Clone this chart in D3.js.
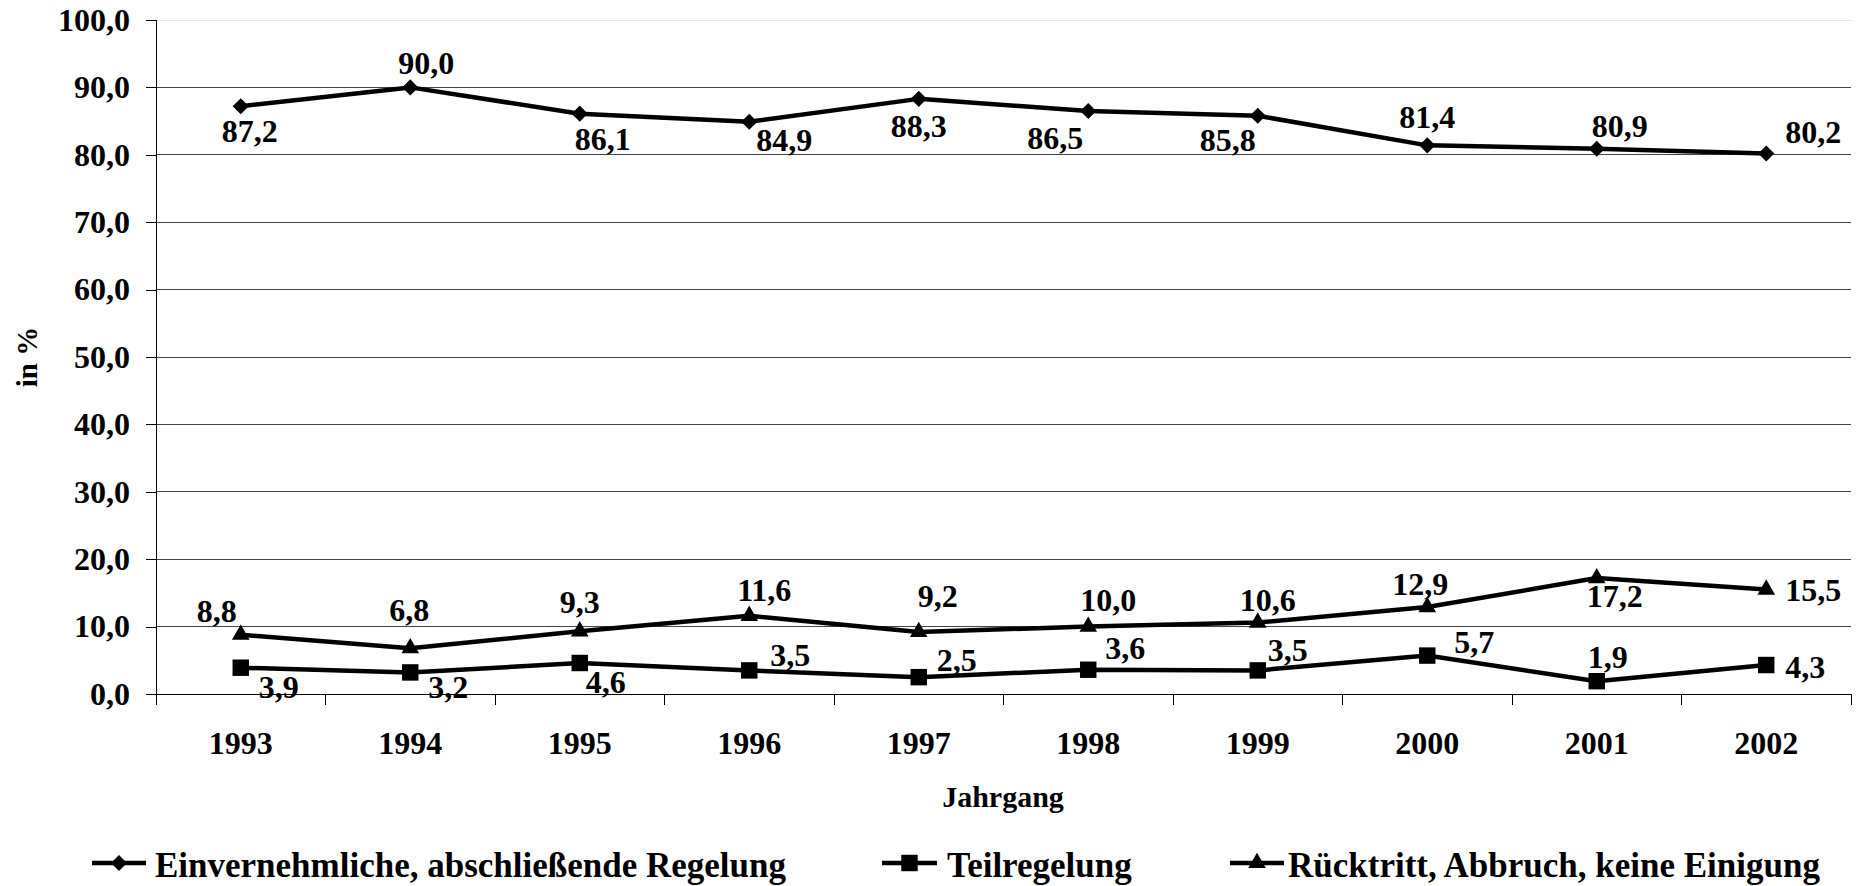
<!DOCTYPE html>
<html>
<head>
<meta charset="utf-8">
<script src="https://cdn.jsdelivr.net/npm/d3@7"></script>
<style>
  html, body { margin: 0; padding: 0; background: #fff; }
  svg { display: block; font-family: "Liberation Serif", "Times New Roman", serif; font-weight: bold; }
</style>
</head>
<body>
<svg id="chart" width="1859" height="886"></svg>
<script>
// ---- data ----
const years = ["1993", "1994", "1995", "1996", "1997", "1998", "1999", "2000", "2001", "2002"];
const einvernehmlich = [87.2, 90.0, 86.1, 84.9, 88.3, 86.5, 85.8, 81.4, 80.9, 80.2];
const teilregelung = [3.9, 3.2, 4.6, 3.5, 2.5, 3.6, 3.5, 5.7, 1.9, 4.3];
const ruecktritt = [8.8, 6.8, 9.3, 11.6, 9.2, 10.0, 10.6, 12.9, 17.2, 15.5];
const yTicks = [0, 10, 20, 30, 40, 50, 60, 70, 80, 90, 100];
const seriesNames = ["Einvernehmliche, abschließende Regelung", "Teilregelung", "Rücktritt, Abbruch, keine Einigung"];
const yTitle = "in %";
const xTitle = "Jahrgang";

// label placement (offset of label centre from marker, px)
const offA = [[9,25],[16,-24],[23,26],[35,18],[0,27],[-33,27],[-30,24],[0,-28],[23,-23],[47,-21]];
const offB = [[38,19],[38,15],[26,19],[41,-15],[38,-17],[37,-22],[30,-20],[47,-13],[11,-24],[39,2]];
const offC = [[-24,-23],[-1,-38],[0,-29],[15,-26],[19,-36],[20,-26],[10,-22],[-7,-23],[18,18],[47,1]];

// ---- layout ----
const svg = d3.select("#chart");
const pLeft = 156, pRight = 1851, pTop = 20, pBottom = 694;
const fmt = v => d3.format(".1f")(v).replace(".", ",");

const x = d3.scaleBand().domain(years).range([pLeft, pRight]).padding(0);
const y = d3.scaleLinear().domain([0, 100]).range([pBottom, pTop]);
const cx = d => x(d) + x.bandwidth() / 2;

// gridlines
svg.append("g").selectAll("line").data(yTicks.filter(t => t > 0)).join("line")
  .attr("x1", pLeft).attr("x2", pRight)
  .attr("y1", d => y(d)).attr("y2", d => y(d))
  .attr("stroke", d => d === 100 ? "#e6e6e6" : "#444")
  .attr("stroke-width", 1)
  .attr("shape-rendering", "crispEdges");

// y axis
const yAxis = svg.append("g").attr("transform", `translate(${pLeft},0)`)
  .call(d3.axisLeft(y).tickValues(yTicks).tickFormat(fmt).tickSize(10).tickSizeOuter(0).tickPadding(16));
yAxis.select(".domain").remove();
yAxis.append("line").attr("x1", 0).attr("x2", 0).attr("y1", pTop).attr("y2", pBottom + 11)
  .attr("stroke", "#000").attr("shape-rendering", "crispEdges");
yAxis.selectAll(".tick line").attr("stroke", "#000").attr("shape-rendering", "crispEdges");
yAxis.selectAll("text").attr("font-size", 32).attr("font-family", "Liberation Serif").attr("font-weight", "bold").attr("fill", "#000");

// x axis
const xAxis = svg.append("g").attr("transform", `translate(0,${pBottom})`)
  .call(d3.axisBottom(x).tickSize(0).tickPadding(37));
xAxis.select(".domain").remove();
xAxis.append("line").attr("x1", pLeft).attr("x2", pRight).attr("y1", 0).attr("y2", 0)
  .attr("stroke", "#000").attr("shape-rendering", "crispEdges");
xAxis.selectAll("text").attr("font-size", 32).attr("font-family", "Liberation Serif").attr("font-weight", "bold").attr("fill", "#000");
const bounds = years.map(d => x(d)).concat([x(years[years.length - 1]) + x.bandwidth()]);
xAxis.selectAll(".btick").data(bounds).join("line").attr("class", "btick")
  .attr("x1", d => d).attr("x2", d => d).attr("y1", 0).attr("y2", 11)
  .attr("stroke", "#000").attr("shape-rendering", "crispEdges");

// axis titles
svg.append("text").attr("x", 1003).attr("y", 807)
  .attr("text-anchor", "middle").attr("font-size", 30).text(xTitle);
svg.append("text").attr("transform", `translate(37,${(pTop + pBottom) / 2}) rotate(-90)`)
  .attr("text-anchor", "middle").attr("font-size", 29).text(yTitle);

// markers
const markerPath = {
  diamond: d3.symbol().type(d3.symbolSquare).size(130)(),
  square: d3.symbol().type(d3.symbolSquare).size(270)(),
  triangle: d3.symbol().type(d3.symbolTriangle).size(135)()
};
const markerRot = { diamond: 45, square: 0, triangle: 0 };

const series = [
  { name: seriesNames[0], values: einvernehmlich, marker: "diamond", off: offA },
  { name: seriesNames[1], values: teilregelung, marker: "square", off: offB },
  { name: seriesNames[2], values: ruecktritt, marker: "triangle", off: offC }
];

const line = d3.line().x(d => cx(d.year)).y(d => y(d.v));

series.forEach(s => {
  const pts = years.map((yr, i) => ({ year: yr, v: s.values[i], off: s.off[i] }));
  const g = svg.append("g");
  g.append("path").datum(pts).attr("d", line)
    .attr("fill", "none").attr("stroke", "#000").attr("stroke-width", 4.5).attr("stroke-linejoin", "round");
  g.selectAll("path.m").data(pts).join("path").attr("class", "m")
    .attr("d", markerPath[s.marker])
    .attr("transform", d => `translate(${cx(d.year)},${y(d.v)}) rotate(${markerRot[s.marker]})`)
    .attr("fill", "#000");
  g.selectAll("text").data(pts).join("text")
    .attr("x", d => cx(d.year) + d.off[0])
    .attr("y", d => y(d.v) + d.off[1] + 10.8)
    .attr("text-anchor", "middle").attr("font-size", 32)
    .text(d => fmt(d.v));
});

// legend
const legendItems = [
  { s: series[0], x1: 92, x2: 146, tx: 155 },
  { s: series[1], x1: 882, x2: 937, tx: 947 },
  { s: series[2], x1: 1230, x2: 1284, tx: 1288 }
];
const lg = svg.append("g");
legendItems.forEach(it => {
  const my = 863;
  lg.append("line").attr("x1", it.x1).attr("x2", it.x2).attr("y1", my).attr("y2", my)
    .attr("stroke", "#000").attr("stroke-width", 4.5);
  lg.append("path").attr("d", markerPath[it.s.marker])
    .attr("transform", `translate(${(it.x1 + it.x2) / 2},${my}) rotate(${markerRot[it.s.marker]})`)
    .attr("fill", "#000");
  lg.append("text").attr("x", it.tx).attr("y", 877).attr("font-size", 35).text(it.s.name);
});
</script>
</body>
</html>
